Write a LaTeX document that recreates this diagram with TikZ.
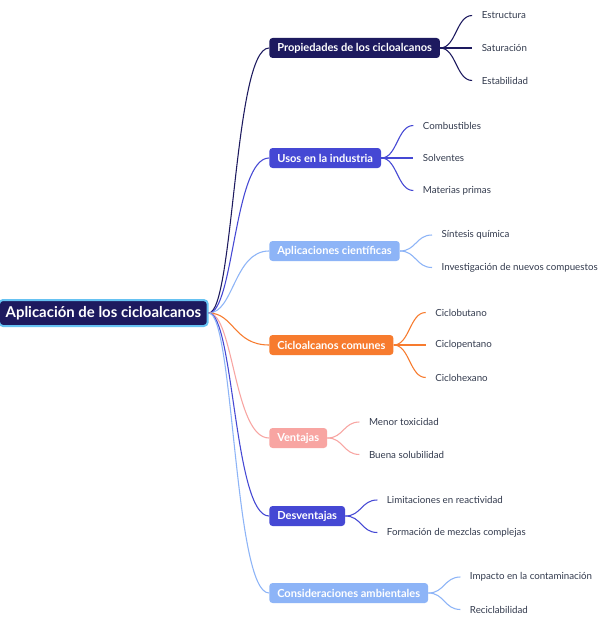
\documentclass[tikz,border=0pt]{standalone}
\usepackage{fontspec}
\setmainfont{Lato}
\usetikzlibrary{calc}
\definecolor{navy}{HTML}{1D1A5F}
\definecolor{indigo}{HTML}{4548D4}
\definecolor{skyb}{HTML}{8DB4F7}
\definecolor{orng}{HTML}{F77B2E}
\definecolor{pinky}{HTML}{F8A5A2}
\definecolor{rootrim}{HTML}{66C2F2}
\definecolor{leafink}{HTML}{333B4E}
\tikzset{
  rootbox/.style={draw=rootrim, line width=1.5pt, fill=navy, text=white, rounded corners=3pt,
    font=\fontsize{11.2}{13}\selectfont\bfseries, inner xsep=5pt, minimum height=19.5pt, anchor=west},
  topic/.style={fill=#1, text=white, rounded corners=2.5pt, font=\fontsize{8.3}{10}\selectfont\bfseries,
    inner xsep=6pt, minimum height=15pt, anchor=west},
  leaf/.style={text=leafink, font=\fontsize{7.3}{9}\selectfont, inner xsep=7pt, inner ysep=2pt, anchor=west},
  link/.style={draw=#1, line width=0.8pt}
}
\begin{document}
\begin{tikzpicture}[x=0.75pt,y=-0.75pt]
\useasboundingbox (0,0) rectangle (599,617);
\fill[white] (0,0) rectangle (599,617);
% root
\node[rootbox] (root) at (-2,313) {Aplicación de los cicloalcanos};
% topics
\node[topic=navy]   (prop) at (269,48)  {Propiedades de los cicloalcanos};
\node[topic=indigo] (usos) at (269,158) {Usos en la industria};
\node[topic=skyb]   (apli) at (269,251) {Aplicaciones científicas};
\node[topic=orng]   (cicl) at (269,345) {Cicloalcanos comunes};
\node[topic=pinky]  (vent) at (269,438) {Ventajas};
\node[topic=indigo] (desv) at (269,516) {Desventajas};
\node[topic=skyb]   (cons) at (269,593) {Consideraciones ambientales};
% root to topics
\foreach \t/\c in {prop/navy,usos/indigo,apli/skyb,cicl/orng,vent/pinky,desv/indigo,cons/skyb}
  \draw[link=\c] (root.east) .. controls +(25,0) and +(-35,0) .. (\t.west);
% leaves
\node[leaf] (estr) at ($(prop.east)+(32,-32.5)$) {Estructura};
\node[leaf] (satu) at ($(prop.east)+(32,0)$)     {Saturación};
\node[leaf] (esta) at ($(prop.east)+(32,32.5)$)  {Estabilidad};
\node[leaf] (comb) at ($(usos.east)+(32,-32.5)$) {Combustibles};
\node[leaf] (solv) at ($(usos.east)+(32,0)$)     {Solventes};
\node[leaf] (mate) at ($(usos.east)+(32,32.5)$)  {Materias primas};
\node[leaf] (sint) at ($(apli.east)+(32,-16)$)   {Síntesis química};
\node[leaf] (inve) at ($(apli.east)+(32,16.5)$)  {Investigación de nuevos compuestos};
\node[leaf] (cbut) at ($(cicl.east)+(32,-32.5)$) {Ciclobutano};
\node[leaf] (cpen) at ($(cicl.east)+(32,0)$)     {Ciclopentano};
\node[leaf] (chex) at ($(cicl.east)+(32,32.5)$)  {Ciclohexano};
\node[leaf] (meno) at ($(vent.east)+(32,-16)$)   {Menor toxicidad};
\node[leaf] (buen) at ($(vent.east)+(32,16.5)$)  {Buena solubilidad};
\node[leaf] (limi) at ($(desv.east)+(32,-16)$)   {Limitaciones en reactividad};
\node[leaf] (form) at ($(desv.east)+(32,16.5)$)  {Formación de mezclas complejas};
\node[leaf] (impa) at ($(cons.east)+(32,-16)$)   {Impacto en la contaminación};
\node[leaf] (reci) at ($(cons.east)+(32,16.5)$)  {Reciclabilidad};
% topics to leaves
\foreach \t/\l/\c in {prop/estr/navy,prop/satu/navy,prop/esta/navy,
  usos/comb/indigo,usos/solv/indigo,usos/mate/indigo,apli/sint/skyb,apli/inve/skyb,
  cicl/cbut/orng,cicl/cpen/orng,cicl/chex/orng,vent/meno/pinky,vent/buen/pinky,
  desv/limi/indigo,desv/form/indigo,cons/impa/skyb,cons/reci/skyb}
  \draw[link=\c] (\t.east) .. controls +(16,0) and +(-16,0) .. (\l.west);
\end{tikzpicture}
\end{document}
